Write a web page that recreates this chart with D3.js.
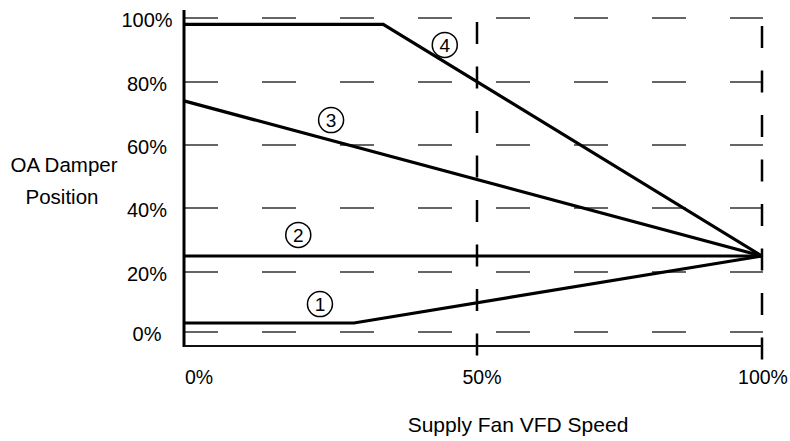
<!DOCTYPE html>
<html lang="en">
<head>
<meta charset="utf-8">
<title>OA Damper Position vs Supply Fan VFD Speed</title>
<script src="https://cdn.jsdelivr.net/npm/d3@7"></script>
<style>
  body { margin: 0; background: #fff; }
  text { font-family: "Liberation Sans", Arial, sans-serif; fill: #000; }
  .grid-h line { stroke: #333; stroke-width: 1.5; stroke-dasharray: 34 44; }
  .grid-v line { stroke: #000; stroke-width: 2.5; stroke-dasharray: 22 22.5; }
  .curve { fill: none; stroke: #000; stroke-width: 3.2; }
  .tag circle { fill: #fff; fill-opacity: 0; stroke: #000; stroke-width: 1.5; }
</style>
</head>
<body>
<svg id="chart" width="790" height="441"></svg>
<script>

// axis ticks
var speedTicks = [0, 50, 100];
var positionTicks = [0, 20, 40, 60, 80, 100];

// the four damper curves (speed %, damper position %)
var curveNames = ["1", "2", "3", "4"];
var curve1Speed = [0, 29, 100], curve1Pos = [3, 3, 25];
var curve2Speed = [0, 100],     curve2Pos = [25, 25];
var curve3Speed = [0, 100],     curve3Pos = [74, 25];
var curve4Speed = [0, 34, 100], curve4Pos = [98, 98, 25];

// where the circled numbers sit, in data units
var tagSpeed = [23.2, 19.5, 25.1, 44.5];
var tagPos   = [9.3, 31.6, 67.9, 91.6];

var svg = d3.select("#chart");

// the drawing is not quite evenly spaced, so use piecewise scales
var x = d3.scaleLinear().domain([0, 50, 100]).range([184, 477, 762]);
var y = d3.scaleLinear().domain(positionTicks).range([332, 272, 208, 145, 82, 18]);

// horizontal dashed grid
svg.append("g").attr("class", "grid-h")
  .selectAll("line")
  .data(positionTicks)
  .enter().append("line")
    .attr("x1", x(0))
    .attr("x2", x(100) + 1)
    .attr("y1", function(d) { return y(d); })
    .attr("y2", function(d) { return y(d); });

// vertical dashed lines at 50% and 100%
var vTop = {50: 22, 100: 26};
svg.append("g").attr("class", "grid-v")
  .selectAll("line")
  .data(speedTicks.slice(1))
  .enter().append("line")
    .attr("x1", function(d) { return x(d); })
    .attr("x2", function(d) { return x(d); })
    .attr("y1", function(d) { return vTop[d]; })
    .attr("y2", function(d) { return d == 100 ? 360 : 356; });

// axes
svg.append("line")
  .attr("x1", x(0)).attr("x2", x(0))
  .attr("y1", 10).attr("y2", 347)
  .attr("stroke", "#000").attr("stroke-width", 3);

svg.append("line")
  .attr("x1", x(0)).attr("x2", x(100))
  .attr("y1", 346).attr("y2", 346)
  .attr("stroke", "#111").attr("stroke-width", 2);

// y tick labels
svg.append("g")
  .selectAll("text")
  .data(positionTicks)
  .enter().append("text")
    .attr("x", 147)
    .attr("y", function(d) { return y(d) + 8.5; })
    .attr("text-anchor", "middle")
    .style("font-size", "20px")
    .text(function(d) { return d + "%"; });

// x tick labels
svg.append("g")
  .selectAll("text")
  .data(speedTicks)
  .enter().append("text")
    .attr("x", function(d) { return d == 0 ? x(d) + 1 : (d == 100 ? x(d) + 1 : x(d) + 5); })
    .attr("y", 384)
    .attr("text-anchor", function(d) { return d == 0 ? "start" : "middle"; })
    .style("font-size", "19.5px")
    .text(function(d) { return d + "%"; });

// axis titles
svg.append("text")
  .attr("x", 518).attr("y", 432)
  .attr("text-anchor", "middle")
  .style("font-size", "21px")
  .text("Supply Fan VFD Speed");

svg.append("text")
  .attr("x", 64).attr("y", 172)
  .attr("text-anchor", "middle")
  .style("font-size", "20.5px")
  .text("OA Damper");

svg.append("text")
  .attr("x", 62).attr("y", 204)
  .attr("text-anchor", "middle")
  .style("font-size", "20.5px")
  .text("Position");

// curves
var curves = [
  d3.zip(curve1Speed, curve1Pos),
  d3.zip(curve2Speed, curve2Pos),
  d3.zip(curve3Speed, curve3Pos),
  d3.zip(curve4Speed, curve4Pos)
];

var line = d3.line()
  .x(function(d) { return x(d[0]); })
  .y(function(d) { return y(d[1]); });

svg.append("g")
  .selectAll("path")
  .data(curves)
  .enter().append("path")
    .attr("class", "curve")
    .attr("d", line);

// circled curve numbers
var tags = svg.append("g")
  .selectAll("g")
  .data(curveNames)
  .enter().append("g")
    .attr("class", "tag")
    .attr("transform", function(d, i) {
      return "translate(" + x(tagSpeed[i]) + "," + y(tagPos[i]) + ")";
    });

tags.append("circle").attr("r", 12.5);

tags.append("text")
  .attr("text-anchor", "middle")
  .attr("y", 7)
  .style("font-size", "19px")
  .text(function(d) { return d; });

</script>
</body>
</html>
